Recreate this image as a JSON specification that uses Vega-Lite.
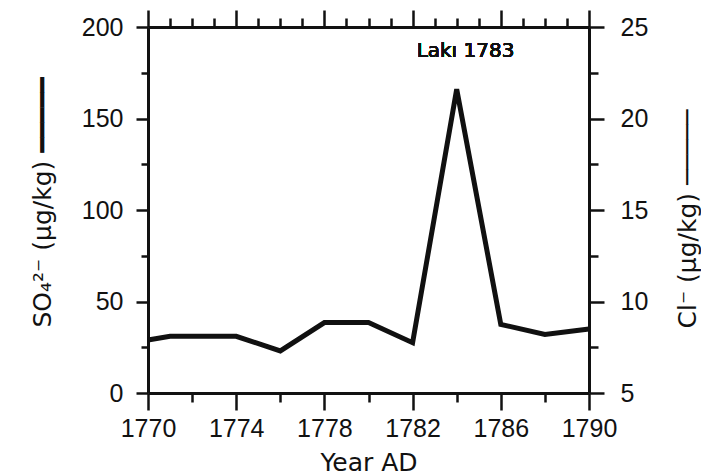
{
  "$schema": "https://vega.github.io/schema/vega-lite/v6.json",
  "width": 441,
  "height": 366,
  "autosize": {"type": "none"},
  "padding": {"left": 148, "top": 27, "right": 112, "bottom": 82},
  "background": "white",
  "config": {
    "view": {"stroke": null},
    "axis": {
      "grid": false,
      "domainColor": "#111",
      "domainWidth": 3,
      "tickColor": "#111",
      "tickWidth": 2.5,
      "labelColor": "#111",
      "labelFont": "Liberation Sans",
      "labelFontSize": 25,
      "labelOverlap": false,
      "labelFlush": false,
      "titleColor": "#111",
      "titleFont": "DejaVu Sans",
      "titleFontSize": 25,
      "titleFontWeight": "normal"
    }
  },
  "data": {
    "values": [
      {"year": 1770, "so4": 29, "cl": 7.9},
      {"year": 1771, "so4": 31, "cl": 8.1},
      {"year": 1772, "so4": 31, "cl": 8.1},
      {"year": 1774, "so4": 31, "cl": 8.1},
      {"year": 1776, "so4": 23, "cl": 7.3},
      {"year": 1778, "so4": 38.5, "cl": 8.85},
      {"year": 1780, "so4": 38.5, "cl": 8.85},
      {"year": 1782, "so4": 27.5, "cl": 7.75},
      {"year": 1784, "so4": 166, "cl": 21.6},
      {"year": 1786, "so4": 37.5, "cl": 8.75},
      {"year": 1788, "so4": 32, "cl": 8.2},
      {"year": 1790, "so4": 35, "cl": 8.5}
    ]
  },
  "layer": [
    {
      "layer": [
        {
          "mark": {"type": "line", "color": "#111", "strokeWidth": 5, "strokeJoin": "miter", "strokeCap": "butt"},
          "encoding": {
            "x": {
              "field": "year",
              "type": "quantitative",
              "scale": {"domain": [1770, 1790], "nice": false, "zero": false},
              "axis": {
                "orient": "bottom",
                "values": [1770, 1771, 1772, 1773, 1774, 1775, 1776, 1777, 1778, 1779, 1780, 1781, 1782, 1783, 1784, 1785, 1786, 1787, 1788, 1789, 1790],
                "format": "d",
                "labelExpr": "datum.value % 4 == 2 ? datum.label : ''",
                "tickSize": {"condition": {"test": "datum.value % 4 == 2", "value": 17}, "value": 9},
                "labelPadding": 6,
                "title": "Year AD",
                "titleBaseline": "alphabetic",
                "titleY": 77
              }
            },
            "y": {
              "field": "so4",
              "type": "quantitative",
              "scale": {"domain": [0, 200], "nice": false},
              "axis": {
                "orient": "left",
                "values": [0, 25, 50, 75, 100, 125, 150, 175, 200],
                "labelExpr": "datum.value % 50 == 0 ? datum.label : ''",
                "tickSize": {"condition": {"test": "datum.value % 50 == 0", "value": 12}, "value": 7},
                "labelPadding": 13,
                "title": "SO₄²⁻ (µg/kg)  ━━━━━",
                "titleAngle": 270,
                "titleAlign": "left",
                "titleBaseline": "alphabetic",
                "titleX": -98,
                "titleY": 300
              }
            }
          }
        },
        {
          "mark": {"type": "text", "text": "Lakı 1783", "font": "DejaVu Sans", "fontSize": 20, "fontWeight": "normal", "fill": "#111", "stroke": null, "baseline": "middle", "align": "center"},
          "encoding": {
            "x": {"datum": 1784.4, "type": "quantitative"},
            "y": {"datum": 187, "type": "quantitative"}
          }
        }
      ]
    },
    {
      "mark": {"type": "line", "color": "#111", "strokeWidth": 1.5},
      "encoding": {
        "x": {
          "field": "year",
          "type": "quantitative",
          "axis": {
            "orient": "top",
            "values": [1770, 1771, 1772, 1773, 1774, 1775, 1776, 1777, 1778, 1779, 1780, 1781, 1782, 1783, 1784, 1785, 1786, 1787, 1788, 1789, 1790],
            "labels": false,
            "tickSize": {"condition": {"test": "datum.value % 4 == 2", "value": 17}, "value": 9},
            "title": null
          }
        },
        "y": {
          "field": "cl",
          "type": "quantitative",
          "scale": {"domain": [5, 25], "nice": false, "zero": false},
          "axis": {
            "orient": "right",
            "values": [5, 7.5, 10, 12.5, 15, 17.5, 20, 22.5, 25],
            "labelExpr": "datum.value % 5 == 0 ? datum.label : ''",
            "tickSize": {"condition": {"test": "datum.value % 5 == 0", "value": 15}, "value": 9},
            "labelPadding": 16,
            "title": "Cl⁻ (µg/kg)  ─────",
            "titleAngle": 270,
            "titleAlign": "left",
            "titleBaseline": "alphabetic",
            "titleX": 106,
            "titleY": 301
          }
        }
      }
    }
  ],
  "resolve": {"scale": {"y": "independent"}, "axis": {"x": "independent", "y": "independent"}}
}
